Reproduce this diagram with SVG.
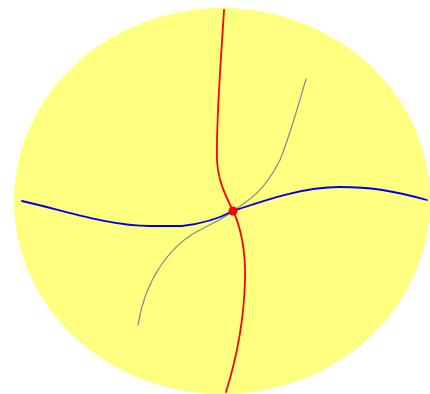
<svg xmlns="http://www.w3.org/2000/svg" width="430" height="394" viewBox="0 0 430 394">
<style>
.c{fill:none;stroke-linecap:round;stroke-linejoin:round}
</style>
<rect width="430" height="394" fill="#ffffff"/>
<g id="disk"><ellipse cx="222" cy="201" rx="208" ry="193" fill="#ffff80"/></g>
<g id="connectors">
<path class="c" d="M138,325 C145,280 170,245 200,230 C215,222 225,218 233,211 C250,200 265,190 280,160 C290,135 300,100 306,79" stroke="#888888" stroke-width="1.2"/>
<path class="c" d="M22,201 C70,212 110,226 150,226 L182,226 C200,224 220,218 233,211 C260,202 300,187 340,187 C370,187 390,190 427,200" stroke="#0000ee" stroke-width="1.8"/>
<path class="c" d="M224,10 C221,60 216,120 217,160 C218,182 226,196 233,211 C240,225 246,250 245,280 C244,320 236,360 226,392" stroke="#ff0000" stroke-width="1.8"/>
</g>
<g id="point"><circle cx="233" cy="211" r="4.5" fill="#ff0000"/></g>
</svg>
